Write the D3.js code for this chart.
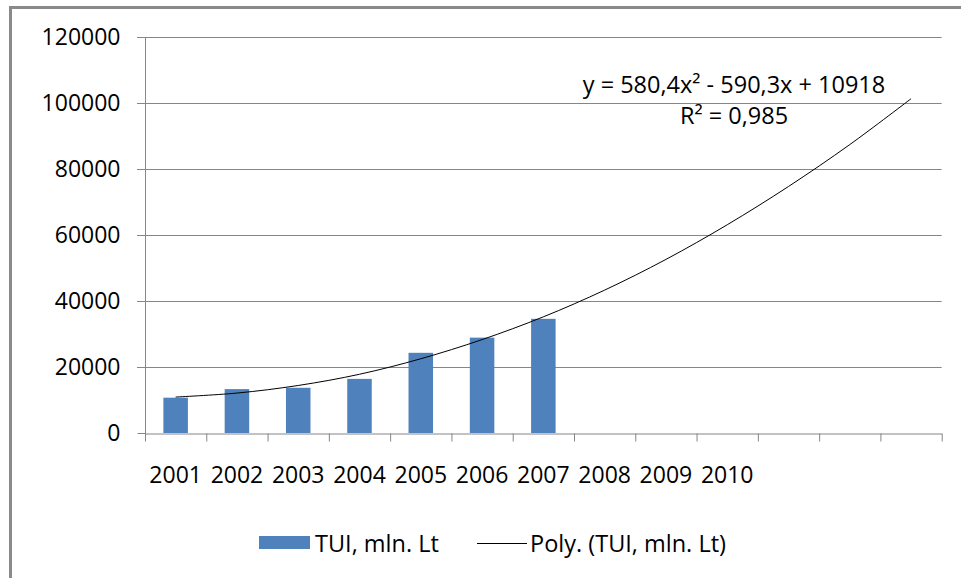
<!DOCTYPE html>
<html>
<head>
<meta charset="utf-8">
<script src="https://cdn.jsdelivr.net/npm/d3@7"></script>
<style>
  body { margin: 0; background: #fff; }
  svg { display: block; }
  text { font-family: "Open Sans", sans-serif; fill: #000; }
</style>
</head>
<body>
<svg id="chart" width="961" height="578"></svg>
<script>
// year labels, 13 category slots (last three left blank in the original)
const categories = ["2001", "2002", "2003", "2004", "2005", "2006", "2007", "2008", "2009", "2010", "", "", ""];
// TUI, mln. Lt (bars) - only 2001..2007 have values
const tuiValues = [10700, 13300, 13700, 16400, 24300, 28900, 34600];
// polynomial trend, one point per slot
const trendValues = [10900, 12100, 14400, 17800, 22500, 28300, 35200, 43300, 52600, 63100, 74700, 87400, 101300];
const yTicks = [0, 20000, 40000, 60000, 80000, 100000, 120000];
const equationLines = ["y = 580,4x² - 590,3x + 10918", "R² = 0,985"];
const legendLabels = ["TUI, mln. Lt", "Poly. (TUI, mln. Lt)"];

const barColor = "#4F81BD";
const gridColor = "#868686";

const svg = d3.select("#chart");

const plotLeft = 145, plotRight = 941.7, plotTop = 37, plotBottom = 433;

const x = d3.scaleBand()
    .domain(categories.map((d, i) => i))
    .range([plotLeft, plotRight])
    .paddingInner(0.6)
    .paddingOuter(0.3);

const y = d3.scaleLinear()
    .domain([0, 120000])
    .range([plotBottom, plotTop]);

// slot boundaries for the tick marks
const slots = d3.scaleLinear()
    .domain([0, categories.length])
    .range([plotLeft, plotRight]);

// outer frame (only left and top edges fall inside the picture)
svg.append("path")
    .attr("d", "M10.5,578 L10.5,7.5 L961,7.5")
    .attr("fill", "none")
    .attr("stroke", "#8a8a8a")
    .attr("stroke-width", 3);

// gridlines
svg.append("g")
  .selectAll("line")
  .data(yTicks.filter(d => d > 0))
  .enter().append("line")
    .attr("x1", plotLeft - 8)
    .attr("x2", plotRight)
    .attr("y1", d => Math.round(y(d)) + 0.5)
    .attr("y2", d => Math.round(y(d)) + 0.5)
    .attr("stroke", gridColor);

// y axis
const yAxis = svg.append("g")
    .attr("transform", `translate(${plotLeft + 0.5},0)`)
    .call(d3.axisLeft(y).tickValues(yTicks).tickFormat(d3.format("d"))
      .tickSize(8).tickPadding(17).tickSizeOuter(0));
yAxis.select(".domain").remove();
yAxis.selectAll("line").attr("stroke", gridColor);
yAxis.selectAll("text").attr("font-size", 23).attr("font-family", "Open Sans");
yAxis.append("line")
    .attr("y1", plotTop).attr("y2", plotBottom + 8)
    .attr("stroke", gridColor);

// x axis line + boundary ticks
const xTicks = svg.append("g")
    .attr("transform", `translate(0,${plotBottom + 0.5})`)
    .call(d3.axisBottom(slots).ticks(categories.length).tickSize(8).tickFormat("").tickSizeOuter(0));
xTicks.select(".domain").attr("stroke", gridColor);
xTicks.selectAll("line").attr("stroke", gridColor);

// x labels
const xLabels = svg.append("g")
    .attr("transform", `translate(0,${plotBottom})`)
    .call(d3.axisBottom(x).tickSize(0).tickPadding(34).tickFormat(i => categories[i]));
xLabels.select(".domain").remove();
xLabels.selectAll("text").attr("font-size", 23).attr("font-family", "Open Sans");

// bars
svg.append("g")
  .selectAll("rect")
  .data(tuiValues)
  .enter().append("rect")
    .attr("x", (d, i) => x(i))
    .attr("width", x.bandwidth())
    .attr("y", d => y(d))
    .attr("height", d => y(0) - y(d))
    .attr("fill", barColor);

// trend line
const line = d3.line()
    .x((d, i) => x(i) + x.bandwidth() / 2)
    .y(d => y(d))
    .curve(d3.curveCatmullRom.alpha(0.5));

svg.append("path")
    .datum(trendValues)
    .attr("d", line)
    .attr("fill", "none")
    .attr("stroke", "#000")
    .attr("stroke-width", 1);

// trend equation label
svg.append("g")
  .selectAll("text")
  .data(equationLines)
  .enter().append("text")
    .attr("x", 734)
    .attr("y", (d, i) => 93 + i * 31)
    .attr("text-anchor", "middle")
    .attr("font-size", 23.5)
    .text(d => d);

// legend
const legend = svg.append("g").attr("font-size", 23.5);
legend.append("rect")
    .attr("x", 259).attr("y", 536)
    .attr("width", 51).attr("height", 13)
    .attr("fill", barColor);
legend.append("text")
    .attr("x", 315).attr("y", 551.5)
    .text(legendLabels[0]);
legend.append("line")
    .attr("x1", 477).attr("x2", 527)
    .attr("y1", 543.5).attr("y2", 543.5)
    .attr("stroke", "#000");
legend.append("text")
    .attr("x", 530).attr("y", 551.5)
    .text(legendLabels[1]);
</script>
</body>
</html>
